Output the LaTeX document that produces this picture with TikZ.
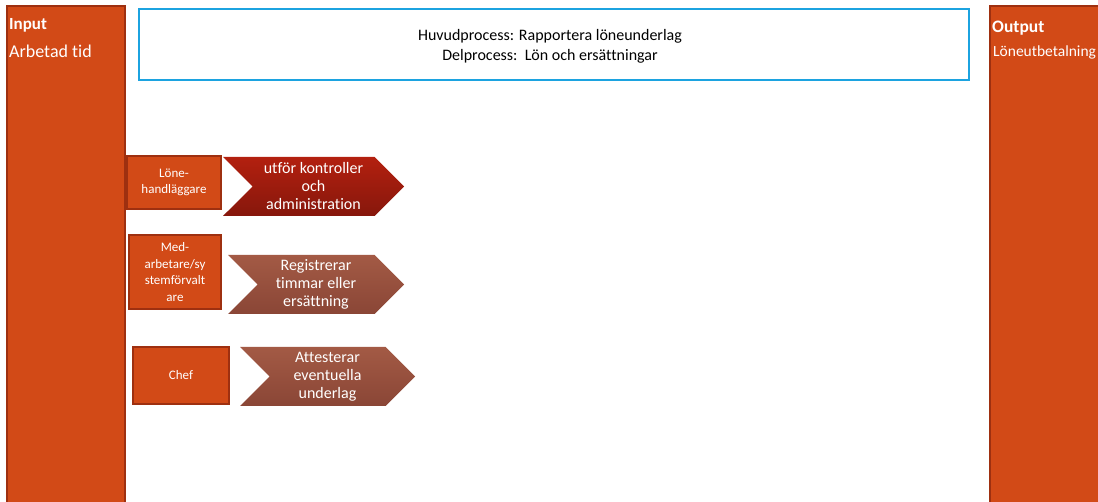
\documentclass[tikz,border=0pt]{standalone}
\usepackage{fontspec}
\setmainfont{Carlito}[Ligatures=NoCommon]
\usetikzlibrary{shapes.symbols}

\definecolor{rust}{HTML}{D24A17}
\definecolor{rustdark}{HTML}{9E3010}
\definecolor{skyline}{HTML}{1CA3E0}
\definecolor{redtop}{HTML}{B3200F}
\definecolor{redbot}{HTML}{86170C}
\definecolor{browntop}{HTML}{A35A45}
\definecolor{brownbot}{HTML}{8A4636}

\tikzset{
  sidebar/.style={draw=rustdark, line width=2pt, fill=rust},
  rolebox/.style={draw=rustdark, line width=2pt, fill=rust, text=white,
    font=\fontsize{13}{16.5}\selectfont, align=center, inner sep=0pt},
  activity/.style={signal, signal from=west, signal to=east,
    signal pointer angle=90, text=white, align=center, inner sep=0pt,
    font=\fontsize{16}{18}\selectfont},
}

\begin{document}
\begin{tikzpicture}[x=1pt, y=-1pt]
    \useasboundingbox (0,0) rectangle (1098,502);

    % input and output columns
    \path[sidebar] (7,6) rectangle (125,506);
    \path[sidebar] (990,6) rectangle (1102,506);
    \node[anchor=west, text=white, inner sep=0pt, font=\fontsize{17}{20}\selectfont\bfseries] (inhead) at (9,25) {Input};
    \node[anchor=west, text=white, inner sep=0pt, font=\fontsize{18}{21}\selectfont] (intext) at (9,51) {Arbetad tid};
    \node[anchor=west, text=white, inner sep=0pt, font=\fontsize{17.5}{20}\selectfont\bfseries] (outhead) at (992,28) {Output};
    \node[anchor=west, text=white, inner sep=0pt, font=\fontsize{15.5}{18}\selectfont] (outtext) at (993,52) {Löneutbetalning};

    % process header
    \draw[skyline, line width=2.5pt] (139,9) rectangle (969,80);
    \node[align=center, font=\fontsize{16}{20}\selectfont] (title) at (550,46)
        {Huvudprocess: Rapportera löneunderlag\\Delprocess:\ \ Lön och ersättningar};

    % roles
    \node[rolebox, minimum width=94pt, minimum height=53pt] (handl) at (174,182.5) {Löne-\\handläggare};
    \node[rolebox, minimum width=92pt, minimum height=74pt] (medarb) at (175,272) {Med-\\arbetare/sy\\stemförvalt\\are};
    \node[rolebox, minimum width=96pt, minimum height=57pt] (chef) at (181,375.5) {Chef};

    % activities
    \node[activity, top color=redtop, bottom color=redbot, minimum width=181pt, minimum height=59pt] (kontroll) at (313.5,186.5) {utför kontroller\\och\\administration};
    \node[activity, top color=browntop, bottom color=brownbot, minimum width=176pt, minimum height=59pt] (registr) at (316,284.5) {Registrerar\\timmar eller\\ersättning};
    \node[activity, top color=browntop, bottom color=brownbot, minimum width=175pt, minimum height=59pt] (attest) at (327.5,376.5) {Attesterar\\eventuella\\underlag};
\end{tikzpicture}
\end{document}
